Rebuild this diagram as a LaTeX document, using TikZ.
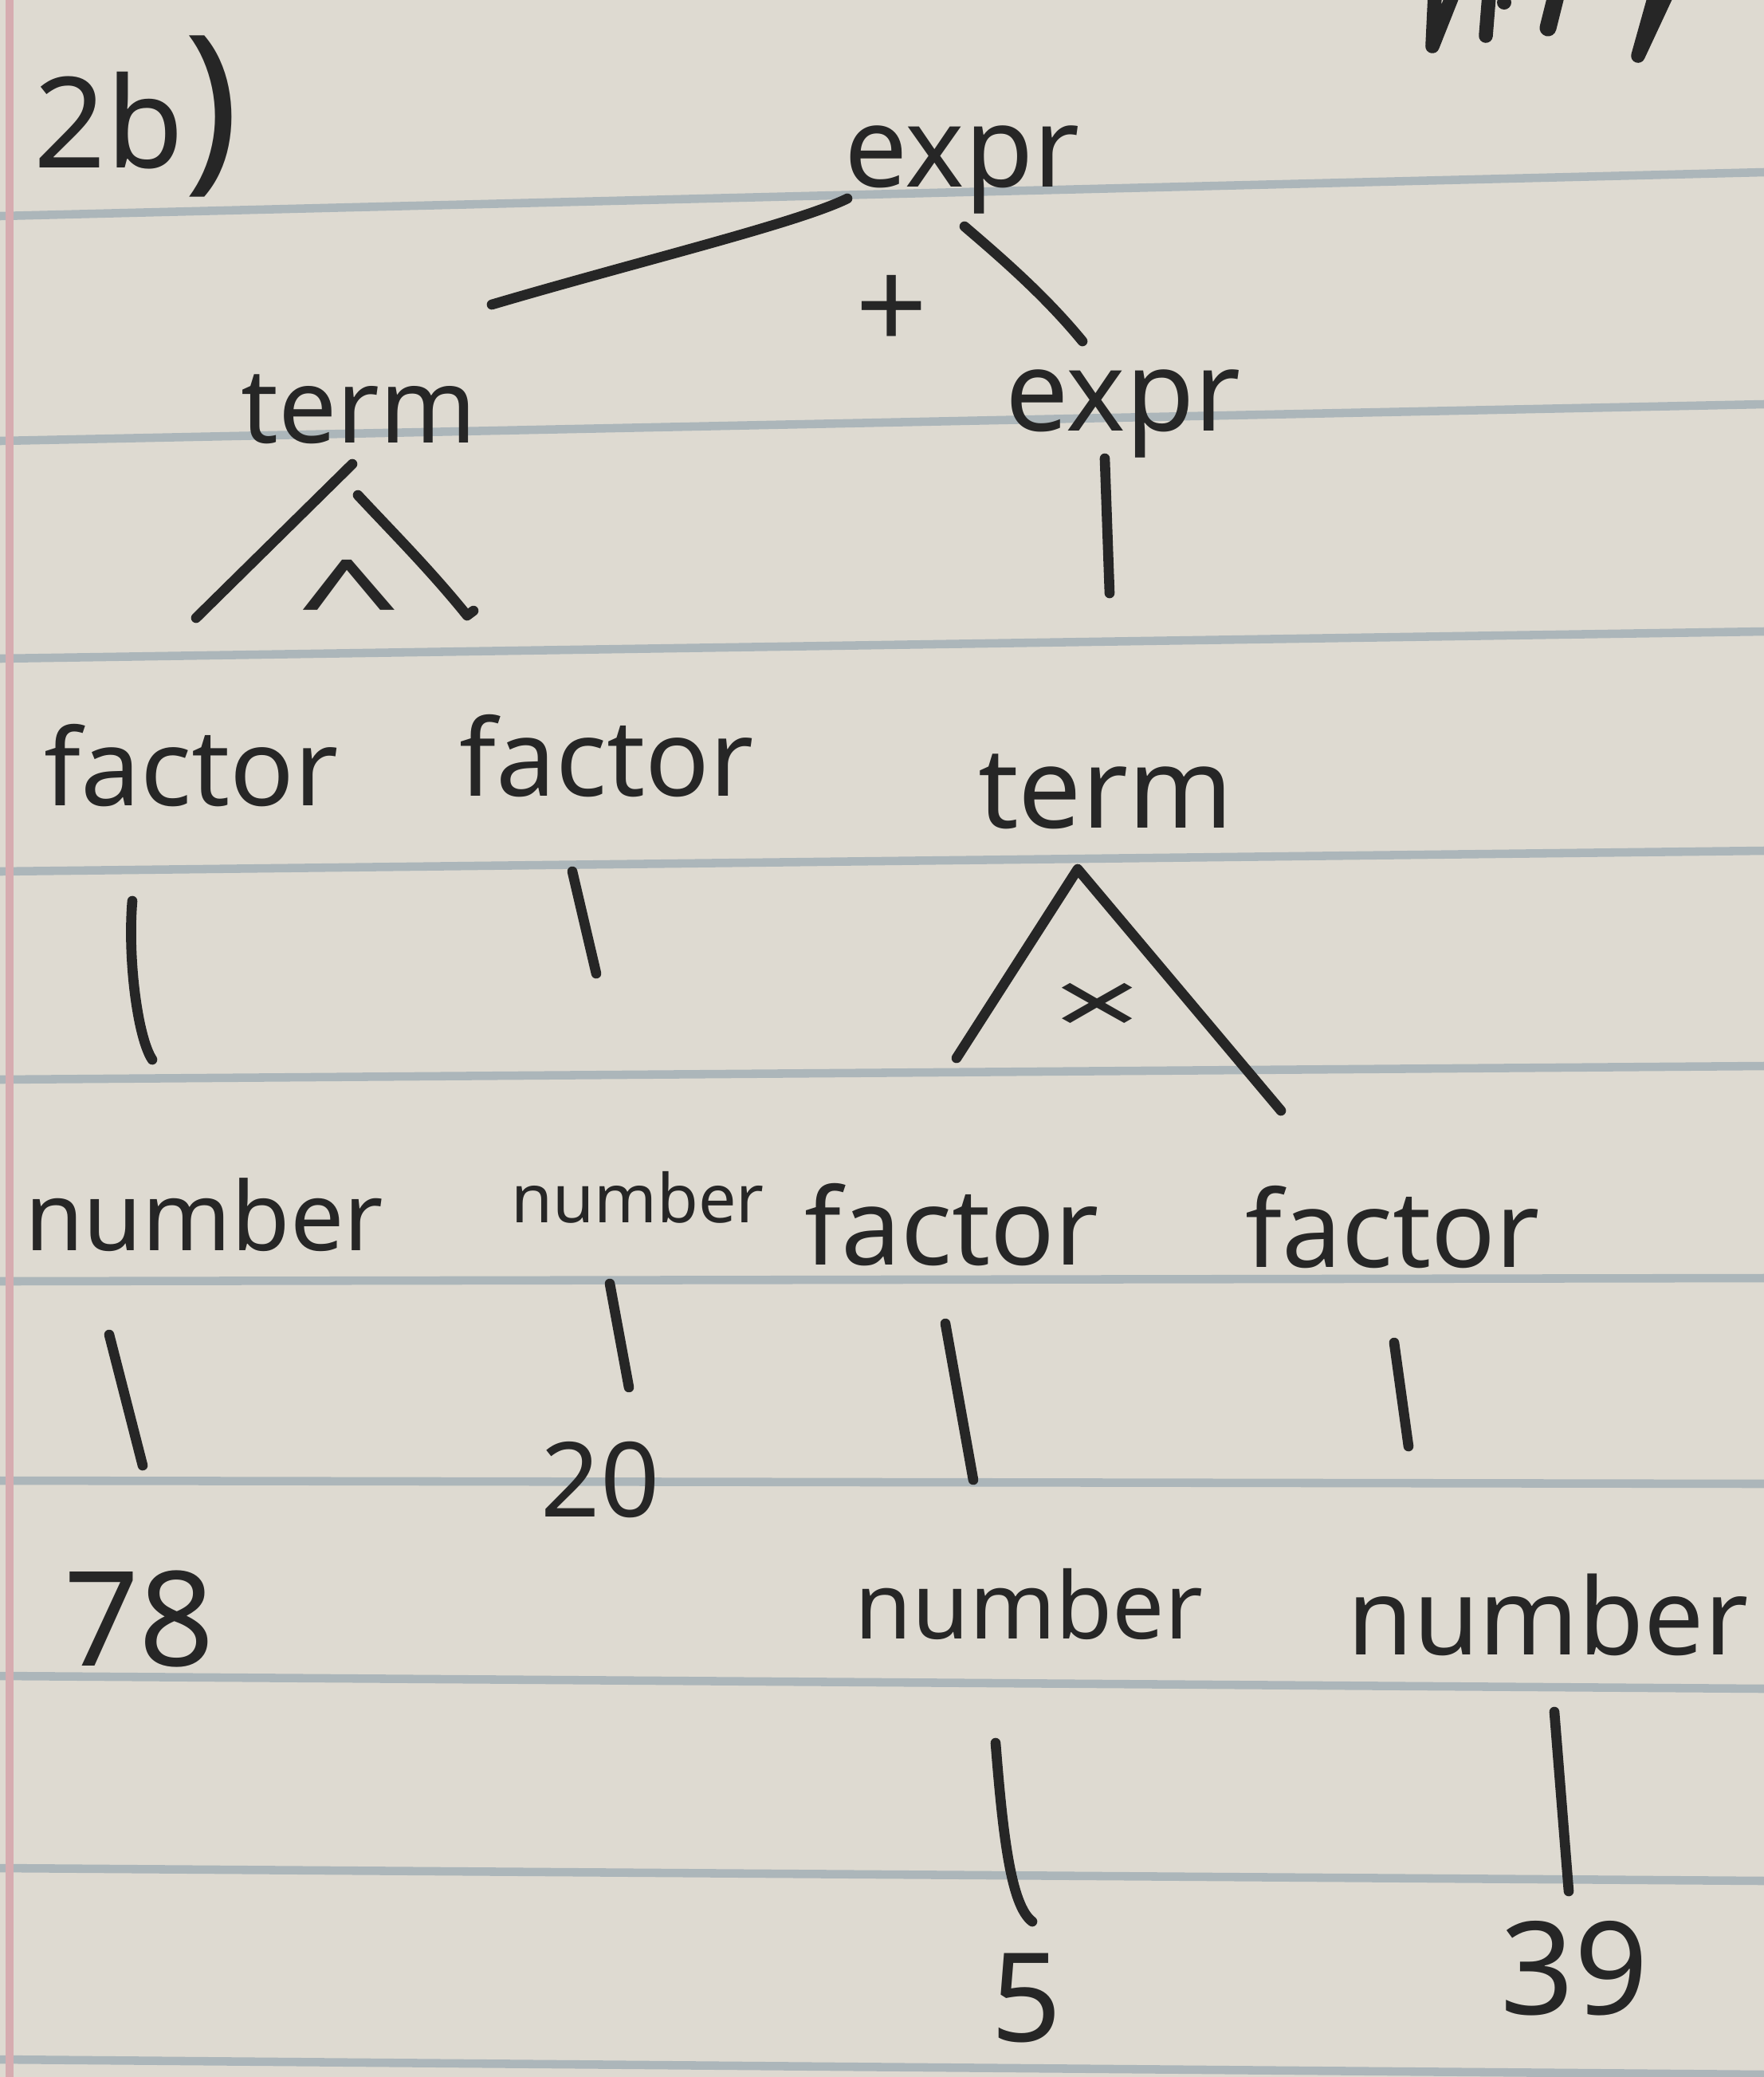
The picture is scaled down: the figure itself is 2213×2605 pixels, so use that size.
\documentclass[tikz,border=0pt]{standalone}
\usepackage{fontspec}
\setmainfont{Noto Sans}
\newcommand\fsz[1]{\fontsize{#1}{#1}\selectfont}
\definecolor{paper}{RGB}{222,218,209}
\definecolor{rule}{RGB}{172,182,186}
\definecolor{margin}{RGB}{214,172,176}
\definecolor{inkc}{RGB}{38,38,38}
\tikzset{
  ink/.style={draw=inkc, line width=3.6pt, line cap=round, line join=round},
  hw/.style={text=inkc, inner sep=0pt, anchor=base},
  opmark/.style={text=inkc, inner sep=0pt, anchor=center},
  ruled/.style={draw=rule, line width=3pt},
}
\begin{document}
\begin{tikzpicture}[x=0.01cm,y=-0.01cm]
\useasboundingbox (0,0) rectangle (2213,2605);
\fill[paper] (0,0) rectangle (2213,2605);
% ruled lines
\foreach \l/\r in {271/216,553/507,826/792,1093/1067,1354/1337,1607/1603,1857/1861,2102/2118,2343/2359,2583/2602}
  \draw[ruled] (0,\l) -- (2213,\r);
% margin
\draw[margin, line width=2.6pt] (12,0) -- (12,2605);

% top-right cut-off scribble
\draw[ink, line width=5pt] (1822,-5) -- (1797,58) -- (1800,-5);
\draw[ink, line width=5pt] (1868,-5) -- (1864,45);
\fill[inkc] (1887,3) circle (9);
\draw[ink, line width=6pt] (1952,-5) -- (1942,35);
\draw[ink, line width=5pt] (2090,-5) -- (2055,70) -- (2076,-5);

% texts
\node[hw, anchor=base west] (lbl) at (42,210) {\fsz{45}2b\fsz{66})};
\node[hw, font=\fsz{40}] (e1) at (1207,234) {expr};
\node[opmark, font=\fsz{45}] (plus) at (1119,392) {+};
\node[hw, font=\fsz{37}] (t1) at (450,555) {term};
\node[hw, font=\fsz{40}] (e2) at (1409,540) {expr};
\node[opmark, font=\fsz{44}] (op1) at (438,752) {\scalebox{1.5}[0.9]{\char"5E}};
\node[hw, font=\fsz{38}] (f1) at (240,1010) {factor};
\node[hw, font=\fsz{38}] (f2) at (761,998) {factor};
\node[hw, font=\fsz{40}] (t2) at (1387,1038) {term};
\node[opmark, font=\fsz{38}] (op2) at (1377,1266) {\scalebox{1.5}[0.85]{×}};
\node[hw, font=\fsz{34}] (n1) at (256,1568) {number};
\node[hw, font=\fsz{24}] (n2) at (800,1533) {number};
\node[hw, font=\fsz{38}] (f3) at (1194,1586) {factor};
\node[hw, font=\fsz{38}] (f4) at (1747,1589) {factor};
\node[hw, font=\fsz{37}] (v20) at (753,1902) {20};
\node[hw, font=\fsz{47}] (v78) at (175,2089) {78};
\node[hw, font=\fsz{33}] (n3) at (1291,2055) {number};
\node[hw, font=\fsz{38}] (n4) at (1942,2075) {number};
\node[hw, font=\fsz{44}] (v5) at (1288,2560) {5};
\node[hw, font=\fsz{46}] (v39) at (1975,2526) {39};

% connector end points
\coordinate (a1) at (1063,249); \coordinate (a2) at (617,382);
\coordinate (b1) at (1210,284); \coordinate (b2) at (1358,428);
\coordinate (c1) at (1386,575); \coordinate (c2) at (1392,744);
\coordinate (d1) at (442,582);  \coordinate (d2) at (246,775);
\coordinate (d3) at (449,621);  \coordinate (d4) at (586,772);
\coordinate (g1) at (166,1130); \coordinate (g2) at (191,1329);
\coordinate (h1) at (718,1093); \coordinate (h2) at (748,1221);
\coordinate (k0) at (1352,1090); \coordinate (k1) at (1200,1327); \coordinate (k2) at (1607,1393);
\coordinate (m1) at (137,1674); \coordinate (m2) at (179,1838);
\coordinate (p1) at (765,1610); \coordinate (p2) at (789,1740);
\coordinate (q1) at (1186,1660); \coordinate (q2) at (1221,1856);
\coordinate (r1) at (1749,1684); \coordinate (r2) at (1767,1814);
\coordinate (s1) at (1249,2186); \coordinate (s2) at (1295,2410);
\coordinate (u1) at (1950,2147); \coordinate (u2) at (1968,2372);

% connectors
\draw[ink] (a1) .. controls (1000,280) and (800,328) .. (a2);
\draw[ink] (b1) .. controls (1258,325) and (1312,372) .. (b2);
\draw[ink] (c1) -- (c2);
\draw[ink] (d1) -- (d2);
\draw[ink] (d3) .. controls (490,665) and (540,715) .. (d4) -- ++(8,-6);
\draw[ink] (g1) .. controls (160,1200) and (172,1300) .. (g2);
\draw[ink] (h1) -- (h2);
\draw[ink] (k1) -- (k0) -- (k2);
\draw[ink] (m1) -- (m2);
\draw[ink] (p1) -- (p2);
\draw[ink] (q1) -- (q2);
\draw[ink] (r1) -- (r2);
\draw[ink] (s1) .. controls (1258,2300) and (1268,2390) .. (s2);
\draw[ink] (u1) -- (u2);
\end{tikzpicture}
\end{document}
